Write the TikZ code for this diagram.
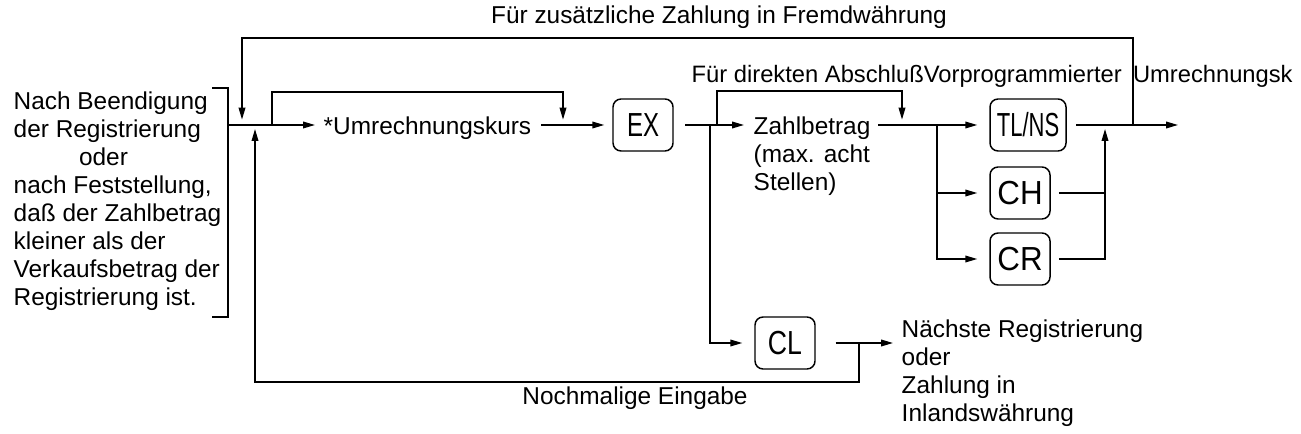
\documentclass[tikz,border=0pt]{standalone}
\usepackage{fontspec}
\setmainfont{Liberation Sans}
\usepackage{graphicx}
\usetikzlibrary{arrows.meta}
\begin{document}
\begin{tikzpicture}[x=0.75pt,y=-0.75pt,
  line width=1.1pt,
  arr/.style={-{Triangle[length=9pt,width=5pt]}},
  txt/.style={inner sep=0pt, font=\fontsize{18.3}{21}\selectfont, align=left},
  keybox/.style={draw, rounded corners=6pt, minimum width=45pt, minimum height=39pt, inner sep=0pt, font=\fontsize{25}{27}\selectfont},
]
\useasboundingbox (0,0) rectangle (1301,434);

% texts
\node[txt, anchor=north west] (left) at (13,91) {Nach Beendigung\\der Registrierung\\\hspace*{49pt}oder\\nach Feststellung,\\daß der Zahlbetrag\\kleiner als der\\Verkaufsbetrag der\\Registrierung ist.};
\node[txt] (top) at (719,17) {Für zusätzliche Zahlung in Fremdwährung};
\node[txt, anchor=west, font=\fontsize{17.8}{21}\selectfont] (direct) at (691,76) {Für direkten AbschlußVorprogrammierter\hspace{8.5pt}Umrechnungsk};
\node[txt, anchor=west] (umr) at (323,128) {*Umrechnungskurs};
\node[txt, anchor=north west] (zb) at (753,116) {Zahlbetrag\\(max. acht\\Stellen)};
\node[txt, anchor=north west] (next) at (901,319) {Nächste Registrierung\\oder\\Zahlung in\\Inlandswährung};
\node[txt] (again) at (635,398) {Nochmalige Eingabe};

% keys
\node[keybox] (ex) at (643,125) {\scalebox{0.72}[1]{EX}};
\node[keybox, minimum width=57pt] (tl) at (1028,125) {\scalebox{0.66}[1]{TL/NS}};
\node[keybox] (ch) at (1020,193) {\scalebox{0.94}[1]{CH}};
\node[keybox] (cr) at (1020,259) {\scalebox{0.94}[1]{CR}};
\node[keybox] (cl) at (785,343) {\scalebox{0.8}[1]{CL}};

% coordinates
\coordinate (bk1) at (212,88);
\coordinate (bk2) at (228,88);
\coordinate (bk3) at (228,317);
\coordinate (bk4) at (212,317);
\coordinate (brk) at (228,125);
\coordinate (j1) at (242,125);
\coordinate (j2) at (255,125);
\coordinate (j3) at (272,125);
\coordinate (iA) at (272,92);
\coordinate (iB) at (563,92);
\coordinate (j4) at (563,125);
\coordinate (u1) at (541,125);
\coordinate (e1) at (685,125);
\coordinate (j5) at (710,125);
\coordinate (j6) at (717,125);
\coordinate (kA) at (717,91);
\coordinate (kB) at (902,91);
\coordinate (zbin) at (744,125);
\coordinate (z1) at (878,125);
\coordinate (j7) at (902,125);
\coordinate (j8) at (937,125);
\coordinate (j9) at (1105,125);
\coordinate (j10) at (1133,125);
\coordinate (out) at (1178,125);
\coordinate (tA) at (1133,38);
\coordinate (tB) at (242,38);
\coordinate (j11) at (859,343);
\coordinate (nextin) at (893,343);
\coordinate (bA) at (859,382);
\coordinate (bB) at (255,382);

% bracket
\draw (bk1) -- (bk2) -- (bk3) -- (bk4);
% main flow
\draw[arr] (brk) -- ([xshift=-6pt]umr.west |- brk);
\draw[arr] (j3) -- (iA) -- (iB) -- ([yshift=4pt]j4);
\draw[arr] (u1) -- ([xshift=-6pt]ex.west);
\draw[arr] (e1) -- (zbin);
\draw[arr] (j5) |- ([xshift=-9pt]cl.west);
\draw[arr] (j6) -- (kA) -- (kB) -- ([yshift=4pt]j7);
\draw[arr] (z1) -- ([xshift=-9pt]tl.west);
\draw[arr] (j8) |- ([xshift=-9pt]ch.west);
\draw[arr] (j8) |- ([xshift=-9pt]cr.west);
\draw ([xshift=6pt]ch.east) -- (ch.east -| j9);
\draw[arr] ([xshift=6pt]cr.east) -- (cr.east -| j9) -- ([yshift=-3pt]j9);
\draw[arr] ([xshift=7pt]tl.east) -- (out);
% top loop
\draw[arr] (j10) -- (tA) -- (tB) -- ([yshift=4pt]j1);
% CL outputs
\draw[arr] ([xshift=15pt]cl.east) -- (nextin);
\draw[arr] (j11) -- (bA) -- (bB) -- ([yshift=-3pt]j2);
\end{tikzpicture}
\end{document}
